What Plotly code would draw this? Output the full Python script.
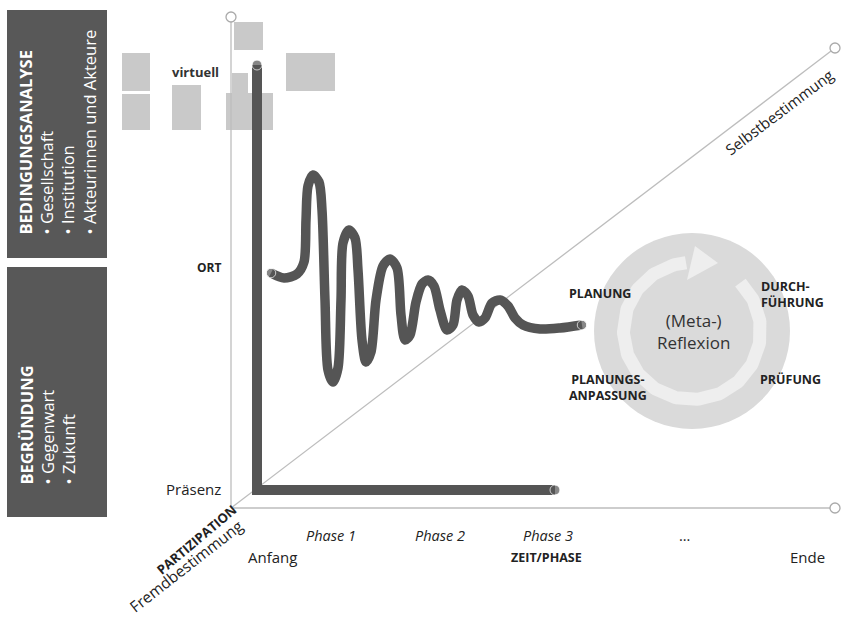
import numpy as np
import plotly.graph_objects as go

W, H = 843, 618
FONT = "Open Sans"
DARK = "#555555"
AXIS = "#bdbdbd"
TXT = "#222222"

# ---- geometry of the three axes (pixel units of the picture) ----
axis_origin = (231, 508)
axis_time_end = (835, 508)
axis_place_end = (231, 17)
axis_part_end = (835, 48)

# ---- thick "Präsenz" path (L shape) ----
path_x = [257, 257, 555]
path_y = [65, 490, 490]

# ---- oscillating path towards reflexion ----
wave_x = [271, 284, 297, 304, 306, 308, 313, 319, 322, 325, 328, 333, 338, 341, 343,
          349, 355, 358, 362, 366, 371, 376, 383, 390, 397, 401, 405, 410, 416, 422,
          428, 434, 440, 447, 453, 457, 462, 468, 473, 479, 485, 492, 500, 508, 515,
          523, 540, 560, 582]
wave_y = [273, 278, 274, 262, 220, 186, 175, 182, 210, 300, 370, 382, 368, 300, 243,
          230, 238, 270, 340, 362, 352, 300, 266, 259, 268, 315, 340, 335, 302, 284,
          280, 286, 310, 330, 325, 300, 290, 296, 315, 322, 318, 303, 300, 306, 318,
          325, 329, 328, 325]

# ---- reflexion cycle ----
cycle_center = (692, 331)
cycle_radius = 98
ring_radius = 68.5
ring_start_deg = 45
ring_end_deg = -265
arrow_head_x = [695, 718, 687]
arrow_head_y = [246, 263, 280]

# ---- left side boxes ----
side_boxes = [(7, 10, 107, 258), (7, 267, 107, 517)]

# ---- light grey blocks around "virtuell" ----
grey_blocks = [(122, 53, 150, 91), (122, 94, 150, 130), (172, 85, 201, 130),
               (234, 22, 263, 50), (286, 53, 335, 91), (226, 93, 273, 130),
               (232, 73, 248, 93)]

# ---- tick labels ----
phase_labels = ["<i>Phase 1</i>", "<i>Phase 2</i>", "<i>Phase 3</i>", "..."]
phase_pos = [331, 440, 548, 684]

fig = go.Figure()
shapes = []

for x0, y0, x1, y1 in grey_blocks:
    shapes.append(dict(type="rect", x0=x0, y0=y0, x1=x1, y1=y1, fillcolor="#c9c9c9",
                       line=dict(width=0), layer="below"))
for x0, y0, x1, y1 in side_boxes:
    shapes.append(dict(type="rect", x0=x0, y0=y0, x1=x1, y1=y1, fillcolor="#585858",
                       line=dict(width=0), layer="below"))

cx, cy = cycle_center
shapes.append(dict(type="circle", x0=cx - cycle_radius, y0=cy - cycle_radius,
                   x1=cx + cycle_radius, y1=cy + cycle_radius, fillcolor="#dadada",
                   line=dict(width=0), layer="below"))

# axis lines
for end in (axis_time_end, axis_place_end, axis_part_end):
    fig.add_trace(go.Scatter(x=[axis_origin[0], end[0]], y=[axis_origin[1], end[1]],
                             mode="lines", line=dict(color=AXIS, width=1.3),
                             hoverinfo="skip"))
for ex, ey in (axis_time_end, axis_place_end, axis_part_end):
    shapes.append(dict(type="circle", x0=ex - 5, y0=ey - 5, x1=ex + 5, y1=ey + 5,
                       fillcolor="white", line=dict(color="#aaaaaa", width=1.3),
                       layer="above"))

# ring with arrow
ang = np.radians(np.linspace(ring_start_deg, ring_end_deg, 200))
fig.add_trace(go.Scatter(x=cx + ring_radius * np.cos(ang), y=cy - ring_radius * np.sin(ang),
                         mode="lines", line=dict(color="#eeeeee", width=13),
                         hoverinfo="skip"))
fig.add_trace(go.Scatter(x=arrow_head_x, y=arrow_head_y, fill="toself", mode="lines",
                         fillcolor="#eeeeee", line=dict(width=0, color="#eeeeee"),
                         hoverinfo="skip"))

# thick paths
fig.add_trace(go.Scatter(x=path_x, y=path_y, mode="lines",
                         line=dict(color=DARK, width=10), hoverinfo="skip"))
fig.add_trace(go.Scatter(x=wave_x, y=wave_y, mode="lines",
                         line=dict(color=DARK, width=9.5, shape="spline", smoothing=0.8),
                         hoverinfo="skip"))
fig.add_trace(go.Scatter(x=[path_x[0], path_x[-1], wave_x[0], wave_x[-1]],
                         y=[path_y[0], path_y[-1], wave_y[0], wave_y[-1]],
                         mode="markers", marker=dict(color=DARK, size=[10, 10, 9.5, 9.5]),
                         hoverinfo="skip"))

ann = []


def label(text, x, y, size=15, xanchor="center", yanchor="middle", angle=0,
          color=TXT, align="center"):
    ann.append(dict(text=text, x=x, y=y, xref="x", yref="y", showarrow=False,
                    xanchor=xanchor, yanchor=yanchor, textangle=angle, align=align,
                    font=dict(family=FONT, size=size, color=color)))


# side boxes
label("<b>BEDINGUNGSANALYSE</b><br>• Gesellschaft<br>• Institution<br>• Akteurinnen und Akteure",
      57, 237, size=16.5, yanchor="bottom", angle=-90, color="white", align="left")
label("<b>BEGRÜNDUNG</b><br>• Gegenwart<br>• Zukunft",
      47, 487, size=16.5, yanchor="bottom", angle=-90, color="white", align="left")

# vertical axis labels
label("<b>virtuell</b>", 195, 72, size=13, color="#333333")
label("<b>ORT</b>", 223, 267, size=12, xanchor="right")
label("Präsenz", 223, 489, size=15, xanchor="right")

# time axis
for t, xp in zip(phase_labels, phase_pos):
    label(t, xp, 535, size=14.5)
label("Anfang", 246, 557, size=15, xanchor="left")
label("Ende", 827, 557, size=15, xanchor="right")
label("<b>ZEIT/PHASE</b>", 546, 557, size=12.5)

# participation axis
label("<b>PARTIZIPATION</b>", 196, 540, size=13, angle=-40)
label("Fremdbestimmung", 186, 566, size=15.5, angle=-38)
label("Selbstbestimmung", 779, 112, size=15, angle=-37)

# cycle
label("(Meta-)<br>Reflexion", 693, 331, size=17, color="#333333")
label("<b>PLANUNG</b>", 600, 293, size=12.5)
label("<b>DURCH-</b><br><b>FÜHRUNG</b>", 759, 294, size=12.5, xanchor="left", align="left")
label("<b>PRÜFUNG</b>", 790, 379, size=12.5)
label("<b>PLANUNGS-</b><br><b>ANPASSUNG</b>", 608, 387, size=12.5)

fig.update_layout(
    width=W, height=H, margin=dict(l=0, r=0, t=0, b=0),
    paper_bgcolor="white", plot_bgcolor="white", showlegend=False, hovermode=False,
    xaxis=dict(range=[0, W], visible=False, fixedrange=True),
    yaxis=dict(range=[H, 0], visible=False, fixedrange=True),
    shapes=shapes, annotations=ann,
)
fig.write_html("out.html", config=dict(displayModeBar=False),
               post_script="document.body.style.margin='0px';")
